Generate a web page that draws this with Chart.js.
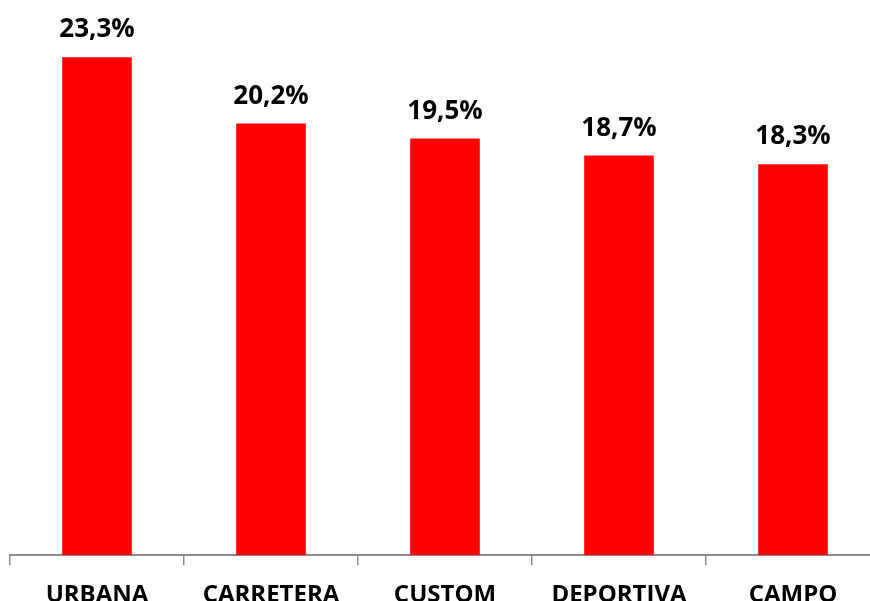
<!DOCTYPE html>
<html>
<head>
<meta charset="utf-8">
<script src="https://cdn.jsdelivr.net/npm/chart.js@4/dist/chart.umd.min.js"></script>
<style>
  html, body { margin: 0; padding: 0; overflow: hidden; background: #fff; }
  #wrap { position: relative; width: 890px; height: 626px; }
</style>
</head>
<body>
<div id="wrap"><canvas id="myChart"></canvas></div>
<script>
const categories = ["URBANA", "CARRETERA", "CUSTOM", "DEPORTIVA", "CAMPO"];
const values = [23.3, 20.2, 19.5, 18.7, 18.3];

// etiquetas encima de cada barra
const topLabels = {
  id: "topLabels",
  afterDatasetsDraw(chart) {
    const ctx = chart.ctx;
    const meta = chart.getDatasetMeta(0);
    ctx.save();
    ctx.font = "bold 26px 'Open Sans'";
    ctx.fillStyle = "#000";
    ctx.textAlign = "center";
    ctx.textBaseline = "alphabetic";
    meta.data.forEach((bar, i) => {
      const txt = values[i].toFixed(1).replace(".", ",") + "%";
      ctx.fillText(txt, bar.x, bar.y - 20);
    });
    ctx.restore();
  },
};

new Chart(document.getElementById("myChart"), {
  type: "bar",
  data: {
    labels: categories,
    datasets: [
      {
        data: values,
        backgroundColor: "#ff0000",
        borderWidth: 0,
        barPercentage: 0.4,
        categoryPercentage: 1,
      },
    ],
  },
  options: {
    responsive: true,
    maintainAspectRatio: false,
    animation: false,
    layout: { padding: { left: 10, right: 10, top: 21, bottom: 0 } },
    plugins: { legend: { display: false }, tooltip: { enabled: false } },
    scales: {
      y: { display: false, min: 0, max: 25 },
      x: {
        grid: {
          drawOnChartArea: false,
          offset: true,
          color: "#8c8c8c",
          lineWidth: 1.5,
          tickLength: 10,
        },
        border: { color: "#8c8c8c", width: 2 },
        ticks: {
          color: "#000",
          font: { family: "'Open Sans'", size: 24, weight: "bold" },
          padding: 16,
          maxRotation: 0,
        },
      },
    },
  },
  plugins: [topLabels],
});
</script>
</body>
</html>
